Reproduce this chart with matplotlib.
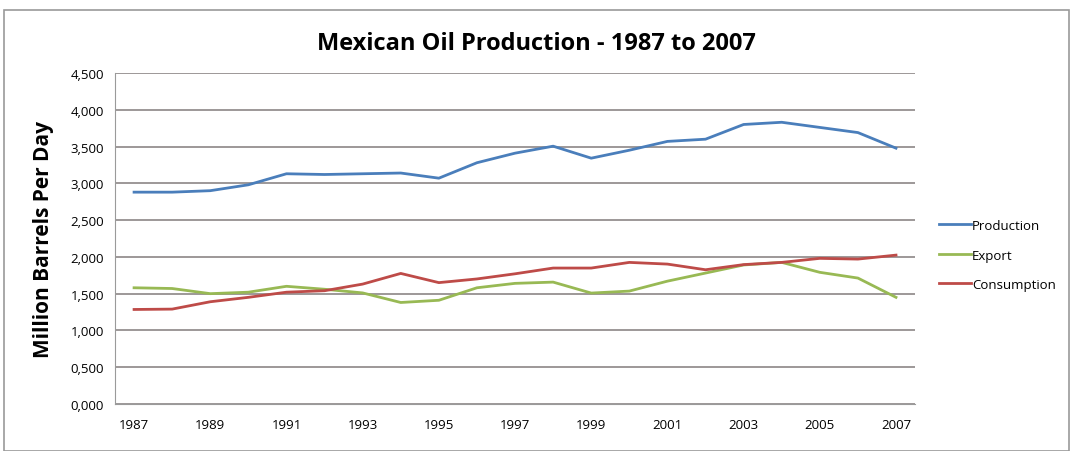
import matplotlib
matplotlib.use("Agg")
import matplotlib.pyplot as plt
from matplotlib.patches import Rectangle
from matplotlib.ticker import FuncFormatter

years = list(range(1987, 2008))
production = [2880, 2880, 2900, 2980, 3130, 3120, 3130, 3140, 3070, 3280, 3410,
              3505, 3342, 3450, 3570, 3600, 3800, 3830, 3760, 3690, 3478]
export = [1580, 1570, 1500, 1520, 1600, 1560, 1510, 1380, 1410, 1580, 1640,
          1657, 1508, 1535, 1670, 1780, 1890, 1925, 1790, 1712, 1450]
consumption = [1285, 1290, 1390, 1450, 1520, 1540, 1630, 1775, 1650, 1700, 1770,
               1848, 1848, 1925, 1902, 1825, 1895, 1925, 1980, 1970, 2024]
tick_years = years[::2]

_TEXT = "#000000"
_GRID = "#8c8686"

fig = plt.figure(figsize=(10.73, 4.52), dpi=100)
fig.patch.set_facecolor("white")
# outer chart frame
fig.add_artist(Rectangle((0.004, 0.0), 0.992, 0.975, transform=fig.transFigure,
                         fill=False, edgecolor="#9a9a9a", linewidth=1.2))

ax = fig.add_axes([0.1072, 0.104, 0.7456, 0.7323])
x = list(range(len(years)))
ax.plot(x, production, color="#4a7ebb", linewidth=2.0, label="Production")
ax.plot(x, export, color="#98b954", linewidth=2.0, label="Export")
ax.plot(x, consumption, color="#be4b48", linewidth=2.0, label="Consumption")

ax.set_xlim(-0.5, len(years) - 0.5)
ax.set_ylim(0, 4500)
ax.set_yticks(range(0, 4501, 500))
ax.yaxis.set_major_formatter(FuncFormatter(lambda v, p: f"{int(v) // 1000},{int(v) % 1000:03d}"))
ax.set_xticks(x[::2])
ax.set_xticklabels([str(y) for y in tick_years])
ax.grid(axis="y", color=_GRID, linewidth=1.2)
ax.set_axisbelow(True)
for s in ["top", "right"]:
    ax.spines[s].set_visible(False)
for s in ["left", "bottom"]:
    ax.spines[s].set_color("#9a9a9a")
ax.tick_params(axis="both", length=0, labelsize=9.5, colors=_TEXT, pad=10)
ax.tick_params(axis="y", pad=8)
for lbl in ax.get_xticklabels() + ax.get_yticklabels():
    lbl.set_family("Open Sans")

ax.set_ylabel("Million Barrels Per Day", fontsize=15, fontweight="bold",
              family="Open Sans", labelpad=12)
fig.suptitle("Mexican Oil Production - 1987 to 2007", fontsize=17,
             fontweight="bold", family="Open Sans", y=0.93)

leg = ax.legend(loc="center left", bbox_to_anchor=(1.015, 0.45), frameon=False,
                handlelength=2.4, handletextpad=0.1, labelspacing=1.25,
                prop={"family": "Open Sans", "size": 9.5})

fig.savefig("out.png", dpi=100, facecolor="white")
